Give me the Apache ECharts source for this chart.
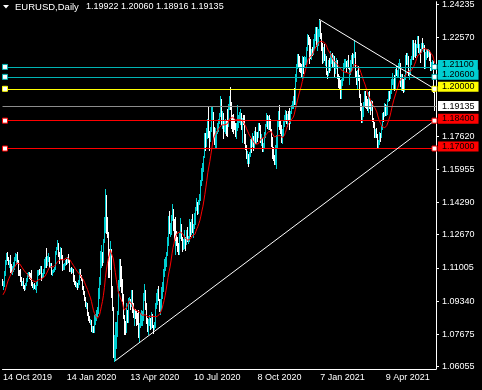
<!DOCTYPE html>
<html><head><meta charset="utf-8">
<script src="https://cdn.jsdelivr.net/npm/echarts@6/dist/echarts.min.js"></script>
<style>html,body{margin:0;padding:0;background:#000;}#c{width:482px;height:390px;}</style>
</head><body><div id="c"></div>
<script>
// ---------- DATA ----------
const symbolName = 'EURUSD,Daily';
const headerValues = ['1.19922', '1.20060', '1.18916', '1.19135'];
const xTickLabels = ['14 Oct 2019', '14 Jan 2020', '13 Apr 2020', '10 Jul 2020', '8 Oct 2020', '7 Jan 2021', '9 Apr 2021'];
const yTickValues = [1.24235, 1.22570, 1.17620, 1.15955, 1.14290, 1.12670, 1.11005, 1.09340, 1.07675, 1.06055];
const levelValues = [1.21100, 1.20600, 1.20000, 1.19135, 1.18400, 1.17000];
const trendLineA = [[113, 1.0634], [434, 1.1840]];
const trendLineB = [[318, 1.2349], [434, 1.2000]];
const maPeriod = 13;
// closes of the 12 sessions before 14 Oct 2019 (for the moving average)
const priorCloses = [1.0925,1.0940,1.0900,1.0930,1.0935,1.0965,1.0980,1.0970,1.0955,1.0970,1.1005,1.1040];

const opens = [
// Oct 2019
1.1040,1.1030,1.1032,1.1075,1.1125,1.1155,1.1150,1.1125,1.1130,1.1105,1.1080,1.1100,1.1125,1.1150,
// Nov 2019
1.1152,1.1165,1.1130,1.1075,1.1065,1.1050,1.1020,1.1030,1.1010,1.1005,1.1020,1.1050,1.1070,1.1075,1.1060,1.1055,1.1020,1.1010,1.1010,1.1000,1.1010,
// Dec 2019
1.1018,1.1080,1.1082,1.1078,1.1105,1.1060,1.1065,1.1090,1.1130,1.1130,1.1120,1.1145,1.1150,1.1110,1.1120,1.1080,1.1085,1.1090,1.1100,1.1175,1.1200,
// Jan 2020
1.1213,1.1170,1.1160,1.1195,1.1150,1.1105,1.1105,1.1120,1.1135,1.1130,1.1150,1.1135,1.1090,1.1095,1.1085,1.1090,1.1055,1.1025,1.1020,1.1020,1.1010,1.1030,
// Feb 2020
1.1090,1.1060,1.1045,1.1000,1.0980,1.0945,1.0910,1.0915,1.0870,1.0840,1.0830,1.0835,1.0790,1.0790,1.0780,1.0845,1.0850,1.0880,1.0880,1.0995,
// Mar 2020
1.1025,1.1135,1.1170,1.1135,1.1240,1.1285,1.1450,1.1285,1.1270,1.1180,1.1105,1.1180,1.0995,1.0900,1.0690,1.0700,1.0720,1.0790,1.0880,1.1030,1.1140,1.1040,
// Apr 2020
1.1030,1.0965,1.0855,1.0805,1.0790,1.0890,1.0860,1.0935,1.0940,1.0915,1.0985,1.0905,1.0865,1.0875,1.0860,1.0855,1.0825,1.0780,1.0815,1.0825,1.0825,1.0875,
// May 2020
1.0955,1.0985,1.0905,1.0840,1.0795,1.0830,1.0840,1.0810,1.0850,1.0815,1.0805,1.0820,1.0915,1.0925,1.0975,1.0945,1.0900,1.0900,1.0980,1.1005,1.1075,
// Jun 2020
1.1100,1.1135,1.1170,1.1235,1.1335,1.1290,1.1295,1.1340,1.1370,1.1300,1.1255,1.1330,1.1265,1.1240,1.1205,1.1175,1.1260,1.1305,1.1250,1.1220,1.1220,1.1245,
// Jul 2020
1.1235,1.1250,1.1240,1.1245,1.1310,1.1275,1.1330,1.1285,1.1300,1.1345,1.1400,1.1410,1.1385,1.1430,1.1445,1.1525,1.1570,1.1595,1.1655,1.1750,1.1720,1.1790,1.1845,
// Aug 2020
1.1775,1.1765,1.1800,1.1865,1.1875,1.1785,1.1735,1.1740,1.1785,1.1815,1.1840,1.1870,1.1930,1.1835,1.1845,1.1795,1.1795,1.1835,1.1830,1.1820,1.1905,
// Sep 2020
1.1935,1.1915,1.1855,1.1850,1.1840,1.1815,1.1780,1.1800,1.1815,1.1845,1.1845,1.1845,1.1815,1.1850,1.1840,1.1770,1.1705,1.1660,1.1670,1.1630,1.1665,1.1745,
// Oct 2020
1.1720,1.1745,1.1715,1.1780,1.1735,1.1765,1.1760,1.1825,1.1815,1.1745,1.1745,1.1705,1.1715,1.1770,1.1820,1.1860,1.1815,1.1860,1.1810,1.1795,1.1745,1.1675,
// Nov 2020
1.1645,1.1640,1.1715,1.1720,1.1830,1.1875,1.1830,1.1815,1.1740,1.1775,1.1835,1.1855,1.1860,1.1850,1.1870,1.1855,1.1840,1.1885,1.1915,1.1915,1.1960,
// Dec 2020
1.1930,1.2070,1.2115,1.2145,1.2120,1.2110,1.2100,1.2080,1.2135,1.2110,1.2145,1.2150,1.2200,1.2265,1.2255,1.2235,1.2165,1.2190,1.2185,1.2215,1.2250,1.2295,
// Jan 2021
1.2215,1.2250,1.2295,1.2325,1.2270,1.2220,1.2150,1.2205,1.2155,1.2155,1.2080,1.2075,1.2130,1.2105,1.2165,1.2170,1.2140,1.2160,1.2115,1.2115,
// Feb 2021
1.2135,1.2060,1.2040,1.2035,1.1965,1.2045,1.2050,1.2120,1.2120,1.2130,1.2120,1.2125,1.2105,1.2040,1.2090,1.2120,1.2155,1.2150,1.2165,1.2175,
// Mar 2021
1.2075,1.2045,1.2090,1.2065,1.1965,1.1915,1.1845,1.1900,1.1930,1.1985,1.1950,1.1930,1.1905,1.1975,1.1915,1.1905,1.1935,1.1850,1.1815,1.1765,1.1795,1.1765,1.1720,
// Apr 2021
1.1730,1.1775,1.1765,1.1815,1.1875,1.1870,1.1915,1.1900,1.1910,1.1945,1.1980,1.1965,1.1985,1.2035,1.2035,1.2035,1.2015,1.2095,1.2085,1.2090,1.2125,1.2125,
// May 2021
1.2020,1.2060,1.2015,1.2005,1.2065,1.2165,1.2130,1.2150,1.2075,1.2080,1.2140,1.2150,1.2225,1.2175,1.2225,1.2180,1.2215,1.2250,1.2190,1.2195,1.2190,
// Jun 2021
1.2225,1.2210,1.2215,1.2125,1.2165,1.2190,1.2175,1.2180,1.2175,1.2105,1.2120,1.2125,1.1992
];
const highs = [
1.1045,1.1035,1.1083,1.1140,1.1173,1.1179,1.1155,1.1140,1.1163,1.1120,1.1110,1.1130,1.1155,1.1175,
1.1170,1.1179,1.1138,1.1090,1.1093,1.1055,1.1035,1.1048,1.1015,1.1025,1.1052,1.1075,1.1080,1.1080,1.1075,1.1090,1.1030,1.1020,1.1025,1.1015,1.1030,
1.1090,1.1090,1.1095,1.1110,1.1110,1.1075,1.1095,1.1145,1.1155,1.1200,1.1160,1.1175,1.1155,1.1125,1.1125,1.1090,1.1095,1.1105,1.1185,1.1205,1.1239,
1.1225,1.1180,1.1205,1.1200,1.1165,1.1120,1.1125,1.1140,1.1145,1.1155,1.1170,1.1140,1.1100,1.1105,1.1100,1.1095,1.1065,1.1035,1.1030,1.1025,1.1040,1.1095,
1.1095,1.1065,1.1050,1.1010,1.0985,1.0955,1.0930,1.0925,1.0880,1.0860,1.0845,1.0840,1.0810,1.0810,1.0865,1.0870,1.0890,1.0905,1.1000,1.1055,
1.1185,1.1215,1.1180,1.1245,1.1355,1.1495,1.1465,1.1355,1.1280,1.1195,1.1235,1.1195,1.1010,1.0905,1.0765,1.0830,1.0830,1.0885,1.1040,1.1147,1.1145,1.1110,
1.1045,1.0970,1.0865,1.0835,1.0925,1.0890,1.0950,1.0955,1.0945,1.0990,1.0990,1.0925,1.0890,1.0895,1.0885,1.0875,1.0890,1.0825,1.0875,1.0890,1.0885,1.0975,
1.1019,1.0990,1.0925,1.0850,1.0845,1.0865,1.0850,1.0880,1.0870,1.0815,1.0830,1.0925,1.0975,1.0995,1.1010,1.0945,1.0945,1.1005,1.1030,1.1095,1.1145,
1.1155,1.1180,1.1255,1.1360,1.1384,1.1325,1.1365,1.1422,1.1395,1.1345,1.1335,1.1355,1.1285,1.1255,1.1225,1.1275,1.1350,1.1320,1.1255,1.1245,1.1290,1.1255,
1.1290,1.1305,1.1260,1.1345,1.1330,1.1345,1.1370,1.1320,1.1375,1.1405,1.1450,1.1430,1.1440,1.1470,1.1540,1.1600,1.1625,1.1660,1.1780,1.1780,1.1805,1.1850,1.1908,
1.1790,1.1810,1.1915,1.1915,1.1885,1.1810,1.1805,1.1790,1.1830,1.1850,1.1880,1.1966,1.1950,1.1890,1.1880,1.1840,1.1850,1.1845,1.1900,1.1925,1.1965,
1.2011,1.1935,1.1870,1.1875,1.1850,1.1830,1.1830,1.1917,1.1870,1.1885,1.1900,1.1880,1.1855,1.1870,1.1870,1.1775,1.1720,1.1690,1.1675,1.1685,1.1750,1.1755,
1.1780,1.1765,1.1790,1.1810,1.1785,1.1785,1.1830,1.1830,1.1820,1.1775,1.1755,1.1730,1.1785,1.1825,1.1880,1.1870,1.1865,1.1870,1.1850,1.1800,1.1760,1.1710,
1.1665,1.1720,1.1770,1.1840,1.1890,1.1920,1.1840,1.1820,1.1800,1.1840,1.1870,1.1895,1.1890,1.1875,1.1890,1.1905,1.1890,1.1920,1.1940,1.1965,1.2005,
1.2075,1.2125,1.2175,1.2177,1.2165,1.2130,1.2125,1.2165,1.2160,1.2165,1.2160,1.2210,1.2273,1.2270,1.2260,1.2250,1.2200,1.2210,1.2250,1.2275,1.2310,1.2310,
1.2310,1.2300,1.2349,1.2340,1.2280,1.2230,1.2210,1.2225,1.2175,1.2165,1.2090,1.2145,1.2155,1.2190,1.2175,1.2180,1.2170,1.2165,1.2140,1.2155,
1.2145,1.2075,1.2065,1.2045,1.2050,1.2060,1.2130,1.2150,1.2150,1.2140,1.2145,1.2170,1.2110,1.2095,1.2145,1.2170,1.2180,1.2175,1.2243,1.2185,
1.2090,1.2095,1.2115,1.2070,1.1975,1.1930,1.1910,1.1935,1.1990,1.1990,1.1965,1.1950,1.1985,1.1990,1.1940,1.1945,1.1940,1.1855,1.1835,1.1800,1.1805,1.1775,1.1745,
1.1785,1.1780,1.1820,1.1880,1.1885,1.1930,1.1925,1.1920,1.1950,1.1990,1.1990,1.1995,1.2050,1.2080,1.2050,1.2070,1.2100,1.2115,1.2095,1.2130,1.2150,1.2130,
1.2075,1.2075,1.2050,1.2070,1.2172,1.2180,1.2180,1.2165,1.2095,1.2150,1.2165,1.2245,1.2245,1.2230,1.2245,1.2225,1.2266,1.2265,1.2225,1.2200,1.2230,
1.2255,1.2230,1.2220,1.2185,1.2200,1.2200,1.2200,1.2195,1.2185,1.2135,1.2145,1.2140,1.2006
];
const lows = [
1.1015,1.0992,1.1010,1.1065,1.1120,1.1140,1.1120,1.1105,1.1080,1.1075,1.1072,1.1085,1.1095,1.1140,
1.1120,1.1125,1.1065,1.1063,1.1036,1.1015,1.1015,1.1000,1.0990,1.0995,1.1012,1.1035,1.1060,1.1050,1.1045,1.1015,1.1005,1.0995,1.0998,1.0995,1.0981,
1.1015,1.1065,1.1068,1.1075,1.1040,1.1055,1.1060,1.1075,1.1105,1.1105,1.1115,1.1135,1.1105,1.1105,1.1070,1.1065,1.1080,1.1085,1.1095,1.1170,1.1195,
1.1160,1.1125,1.1150,1.1145,1.1090,1.1095,1.1095,1.1115,1.1120,1.1125,1.1130,1.1085,1.1085,1.1075,1.1080,1.1035,1.1020,1.1010,1.1005,1.0992,1.1005,1.1020,
1.1055,1.1040,1.0995,1.0970,1.0940,1.0910,1.0900,1.0865,1.0840,1.0827,1.0820,1.0785,1.0780,1.0778,1.0780,1.0820,1.0840,1.0860,1.0875,1.0950,
1.1020,1.1105,1.1115,1.1130,1.1230,1.1280,1.1275,1.1255,1.1055,1.1055,1.1095,1.0955,1.0890,1.0655,1.0635,1.0636,1.0700,1.0760,1.0870,1.0990,1.1010,1.0980,
1.0935,1.0850,1.0770,1.0770,1.0780,1.0830,1.0830,1.0925,1.0895,1.0910,1.0880,1.0855,1.0815,1.0850,1.0815,1.0820,1.0755,1.0727,1.0805,1.0815,1.0815,1.0840,
1.0940,1.0895,1.0825,1.0782,1.0767,1.0815,1.0795,1.0800,1.0805,1.0775,1.0795,1.0805,1.0900,1.0920,1.0940,1.0885,1.0870,1.0895,1.0950,1.0985,1.1060,
1.1090,1.1110,1.1165,1.1215,1.1275,1.1260,1.1270,1.1340,1.1290,1.1245,1.1170,1.1240,1.1215,1.1185,1.1170,1.1170,1.1250,1.1240,1.1185,1.1195,1.1200,1.1190,
1.1220,1.1235,1.1225,1.1235,1.1260,1.1270,1.1280,1.1255,1.1300,1.1320,1.1390,1.1370,1.1375,1.1420,1.1440,1.1515,1.1540,1.1585,1.1655,1.1695,1.1715,1.1755,1.1760,
1.1695,1.1740,1.1790,1.1845,1.1755,1.1725,1.1710,1.1710,1.1780,1.1790,1.1830,1.1865,1.1825,1.1805,1.1755,1.1790,1.1780,1.1770,1.1765,1.1815,1.1900,
1.1900,1.1805,1.1790,1.1780,1.1800,1.1765,1.1755,1.1795,1.1810,1.1835,1.1825,1.1800,1.1735,1.1825,1.1730,1.1700,1.1650,1.1625,1.1612,1.1625,1.1660,1.1685,
1.1715,1.1695,1.1705,1.1730,1.1730,1.1740,1.1760,1.1795,1.1735,1.1720,1.1690,1.1690,1.1705,1.1760,1.1815,1.1805,1.1800,1.1800,1.1790,1.1715,1.1650,1.1640,
1.1620,1.1620,1.1603,1.1710,1.1815,1.1800,1.1780,1.1735,1.1730,1.1765,1.1815,1.1840,1.1830,1.1815,1.1850,1.1800,1.1830,1.1880,1.1905,1.1905,1.1925,
1.1925,1.2040,1.2105,1.2110,1.2090,1.2085,1.2060,1.2055,1.2080,1.2110,1.2125,1.2125,1.2195,1.2225,1.2130,1.2155,1.2150,1.2170,1.2175,1.2205,1.2245,1.2215,
1.2195,1.2220,1.2265,1.2255,1.2195,1.2130,1.2135,1.2145,1.2120,1.2075,1.2055,1.2070,1.2085,1.2095,1.2130,1.2115,1.2115,1.2060,1.2080,1.2105,
1.2055,1.2010,1.2005,1.1955,1.1952,1.2020,1.2045,1.2105,1.2110,1.2085,1.2110,1.2105,1.2025,1.2025,1.2075,1.2090,1.2130,1.2110,1.2160,1.2065,
1.2025,1.2000,1.2045,1.1960,1.1895,1.1835,1.1835,1.1865,1.1920,1.1910,1.1905,1.1895,1.1885,1.1905,1.1875,1.1895,1.1840,1.1810,1.1760,1.1760,1.1760,1.1710,1.1704,
1.1725,1.1740,1.1760,1.1800,1.1840,1.1865,1.1870,1.1870,1.1875,1.1940,1.1945,1.1955,1.1980,1.2025,1.2000,1.1995,1.2000,1.2070,1.2060,1.2060,1.2105,1.2015,
1.1995,1.1995,1.1986,1.1990,1.2050,1.2125,1.2125,1.2070,1.2050,1.2075,1.2125,1.2150,1.2150,1.2165,1.2160,1.2170,1.2210,1.2185,1.2175,1.2135,1.2185,
1.2205,1.2190,1.2105,1.2105,1.2150,1.2160,1.2165,1.2145,1.2095,1.2095,1.2105,1.1985,1.1892
];
const closes = [
1.1030,1.1032,1.1075,1.1125,1.1155,1.1150,1.1125,1.1130,1.1105,1.1080,1.1100,1.1125,1.1150,1.1152,
1.1165,1.1130,1.1075,1.1065,1.1050,1.1020,1.1030,1.1010,1.1005,1.1020,1.1050,1.1070,1.1075,1.1060,1.1055,1.1020,1.1010,1.1010,1.1000,1.1010,1.1018,
1.1080,1.1082,1.1078,1.1105,1.1060,1.1065,1.1090,1.1130,1.1130,1.1120,1.1145,1.1150,1.1110,1.1120,1.1080,1.1085,1.1090,1.1100,1.1175,1.1200,1.1213,
1.1170,1.1160,1.1195,1.1150,1.1105,1.1105,1.1120,1.1135,1.1130,1.1150,1.1135,1.1090,1.1095,1.1085,1.1090,1.1055,1.1025,1.1020,1.1020,1.1010,1.1030,1.1090,
1.1060,1.1045,1.1000,1.0980,1.0945,1.0910,1.0915,1.0870,1.0840,1.0830,1.0835,1.0790,1.0790,1.0780,1.0845,1.0850,1.0880,1.0880,1.0995,1.1025,
1.1135,1.1170,1.1135,1.1240,1.1285,1.1450,1.1285,1.1270,1.1180,1.1105,1.1180,1.0995,1.0900,1.0690,1.0700,1.0720,1.0790,1.0880,1.1030,1.1140,1.1040,1.1030,
1.0965,1.0855,1.0805,1.0790,1.0890,1.0860,1.0935,1.0940,1.0915,1.0985,1.0905,1.0865,1.0875,1.0860,1.0855,1.0825,1.0780,1.0815,1.0825,1.0825,1.0875,1.0955,
1.0985,1.0905,1.0840,1.0795,1.0830,1.0840,1.0810,1.0850,1.0815,1.0805,1.0820,1.0915,1.0925,1.0975,1.0945,1.0900,1.0900,1.0980,1.1005,1.1075,1.1100,
1.1135,1.1170,1.1235,1.1335,1.1290,1.1295,1.1340,1.1370,1.1300,1.1255,1.1330,1.1265,1.1240,1.1205,1.1175,1.1260,1.1305,1.1250,1.1220,1.1220,1.1245,1.1235,
1.1250,1.1240,1.1245,1.1310,1.1275,1.1330,1.1285,1.1300,1.1345,1.1400,1.1410,1.1385,1.1430,1.1445,1.1525,1.1570,1.1595,1.1655,1.1750,1.1720,1.1790,1.1845,1.1775,
1.1765,1.1800,1.1865,1.1875,1.1785,1.1735,1.1740,1.1785,1.1815,1.1840,1.1870,1.1930,1.1835,1.1845,1.1795,1.1795,1.1835,1.1830,1.1820,1.1905,1.1935,
1.1915,1.1855,1.1850,1.1840,1.1815,1.1780,1.1800,1.1815,1.1845,1.1845,1.1845,1.1815,1.1850,1.1840,1.1770,1.1705,1.1660,1.1670,1.1630,1.1665,1.1745,1.1720,
1.1745,1.1715,1.1780,1.1735,1.1765,1.1760,1.1825,1.1815,1.1745,1.1745,1.1705,1.1715,1.1770,1.1820,1.1860,1.1815,1.1860,1.1810,1.1795,1.1745,1.1675,1.1645,
1.1640,1.1715,1.1720,1.1830,1.1875,1.1830,1.1815,1.1740,1.1775,1.1835,1.1855,1.1860,1.1850,1.1870,1.1855,1.1840,1.1885,1.1915,1.1915,1.1960,1.1930,
1.2070,1.2115,1.2145,1.2120,1.2110,1.2100,1.2080,1.2135,1.2110,1.2145,1.2150,1.2200,1.2265,1.2255,1.2235,1.2165,1.2190,1.2185,1.2215,1.2250,1.2295,1.2215,
1.2250,1.2295,1.2325,1.2270,1.2220,1.2150,1.2205,1.2155,1.2155,1.2080,1.2075,1.2130,1.2105,1.2165,1.2170,1.2140,1.2160,1.2115,1.2115,1.2135,
1.2060,1.2040,1.2035,1.1965,1.2045,1.2050,1.2120,1.2120,1.2130,1.2120,1.2125,1.2105,1.2040,1.2090,1.2120,1.2155,1.2150,1.2165,1.2175,1.2075,
1.2045,1.2090,1.2065,1.1965,1.1915,1.1845,1.1900,1.1930,1.1985,1.1950,1.1930,1.1905,1.1975,1.1915,1.1905,1.1935,1.1850,1.1815,1.1765,1.1795,1.1765,1.1720,1.1730,
1.1775,1.1765,1.1815,1.1875,1.1870,1.1915,1.1900,1.1910,1.1945,1.1980,1.1965,1.1985,1.2035,1.2035,1.2035,1.2015,1.2095,1.2085,1.2090,1.2125,1.2125,1.2020,
1.2060,1.2015,1.2005,1.2065,1.2165,1.2130,1.2150,1.2075,1.2080,1.2140,1.2150,1.2225,1.2175,1.2225,1.2180,1.2215,1.2250,1.2190,1.2195,1.2190,1.2225,
1.2210,1.2215,1.2125,1.2165,1.2190,1.2175,1.2180,1.2175,1.2105,1.2120,1.2125,1.1995,1.1914
];

// ---------- STYLE ----------
const BULL = '#00CED1', BEAR = '#FFFFFF', MA_COLOR = '#FF0000';
const levelLineColors = ['#00B4B4', '#00B4B4', '#FFFF00', '#8C8C8C', '#FF0000', '#FF0000'];
const levelLabelBg = ['#00CED1', '#00CED1', '#FFFF00', '#FFFFFF', '#FF0000', '#FF0000'];
const levelHasBox = [true, true, true, false, true, true];
const FONT = '"Liberation Sans", Arial, sans-serif';

// ---------- BUILD ----------
const MONTHS = ['Jan','Feb','Mar','Apr','May','Jun','Jul','Aug','Sep','Oct','Nov','Dec'];
const noTradeDays = ['25 Dec', '1 Jan'];
function tradingDays(count) {
  const d = new Date(Date.UTC(2019, 9, 14));
  const out = [];
  while (out.length < count) {
    const wd = d.getUTCDay();
    const dm = d.getUTCDate() + ' ' + MONTHS[d.getUTCMonth()];
    if (wd > 0 && wd < 6 && noTradeDays.indexOf(dm) < 0) out.push(dm + ' ' + d.getUTCFullYear());
    d.setUTCDate(d.getUTCDate() + 1);
  }
  return out;
}
const categories = tradingDays(closes.length + 1);

const allCloses = priorCloses.concat(closes);
const maValues = closes.map((c, i) => {
  const end = i + priorCloses.length + 1;
  let s = 0;
  for (let k = end - maPeriod; k < end; k++) s += allCloses[k];
  return +(s / maPeriod).toFixed(5);
});

const candleData = closes.map((c, i) => [i, opens[i], c, lows[i], highs[i]]);

const markLineData = levelValues.map((v, k) => ({
  yAxis: v,
  lineStyle: { color: levelLineColors[k], width: 1, type: 'solid', opacity: 1 },
  label: {
    show: true, position: 'end', distance: 2,
    formatter: v.toFixed(5),
    backgroundColor: levelLabelBg[k], color: '#000',
    fontFamily: FONT, fontSize: 9, lineHeight: 9,
    padding: [1, 4, 0, 4],
    offset: [0, k === 3 ? 0 : -2]
  }
}));
[trendLineA, trendLineB].forEach(t => {
  markLineData.push([
    { coord: [categories[t[0][0]], t[0][1]], lineStyle: { color: '#FFFFFF', width: 1, type: 'solid' }, label: { show: false } },
    { coord: [categories[t[1][0]], t[1][1]] }
  ]);
});

const markPointData = [];
levelValues.forEach((v, k) => {
  if (!levelHasBox[k]) return;
  [2, closes.length - 1].forEach(ix => {
    markPointData.push({
      coord: [categories[ix], v],
      itemStyle: { color: '#FFFFFF', borderColor: levelLineColors[k], borderWidth: 1 }
    });
  });
});

const chart = echarts.init(document.getElementById('c'), null, { renderer: 'canvas' });
chart.setOption({
  backgroundColor: '#000000',
  animation: false,
  grid: { left: 0, right: 46, top: 0, bottom: 21, containLabel: false },
  xAxis: {
    type: 'category', data: categories, boundaryGap: true,
    axisLine: { onZero: false, lineStyle: { color: '#FFFFFF', width: 1 } },
    axisTick: { alignWithLabel: true, length: 3, lineStyle: { color: '#FFFFFF' },
      interval: (idx, val) => xTickLabels.indexOf(val) >= 0 },
    axisLabel: { color: '#FFFFFF', fontFamily: FONT, fontSize: 9, align: 'left', margin: 4,
      interval: (idx, val) => xTickLabels.indexOf(val) >= 0 },
    splitLine: { show: false }
  },
  yAxis: {
    type: 'value', position: 'right', min: 1.05925, max: 1.24375,
    axisLine: { show: true, lineStyle: { color: '#FFFFFF', width: 1 } },
    axisTick: { show: true, length: 3, customValues: yTickValues, lineStyle: { color: '#FFFFFF' } },
    axisLabel: { customValues: yTickValues, formatter: v => v.toFixed(5), color: '#FFFFFF',
      fontFamily: FONT, fontSize: 9, margin: 6 },
    splitLine: { show: false }
  },
  graphic: [
    { type: 'polygon', shape: { points: [[3, 5], [9, 5], [6, 8.5]] }, style: { fill: '#FFFFFF' } },
    { type: 'text', left: 15, top: 2, style: { text: symbolName, fill: '#FFFFFF', font: '9.5px ' + FONT } },
    { type: 'text', left: 86, top: 2, style: { text: headerValues.join(' '), fill: '#FFFFFF', font: '9px ' + FONT } }
  ],
  series: [
    {
      type: 'custom', name: 'EURUSD', data: candleData, z: 2,
      encode: { x: 0, y: [3, 4] },
      renderItem: function (params, api) {
        const i = api.value(0);
        const top = api.coord([i, api.value(4)]);
        const bot = api.coord([i, api.value(3)]);
        const x = Math.floor(top[0]);
        const y1 = Math.round(top[1]);
        const y2 = Math.round(bot[1]);
        return {
          type: 'rect',
          shape: { x: x, y: y1, width: 1, height: Math.max(1, y2 - y1 + 1) },
          style: { fill: api.value(2) >= api.value(1) ? BULL : BEAR }
        };
      }
    },
    {
      type: 'line', name: 'MA', data: maValues, z: 3, showSymbol: false, symbol: 'none',
      lineStyle: { color: MA_COLOR, width: 1 },
      markLine: { silent: true, symbol: ['none', 'none'], precision: 5, animation: false, data: markLineData },
      markPoint: { silent: true, symbol: 'rect', symbolSize: 5, label: { show: false }, data: markPointData }
    }
  ]
});
</script>
</body></html>
